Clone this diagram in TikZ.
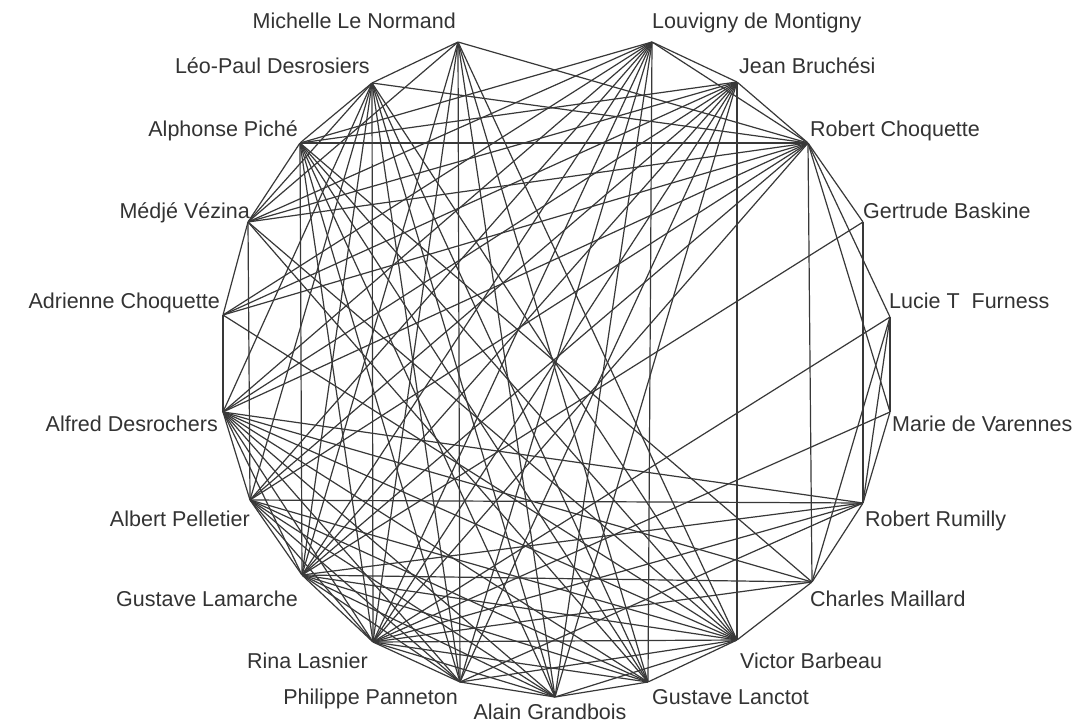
\documentclass[tikz,border=0pt]{standalone}
\usepackage{fontspec}
\setmainfont{Liberation Sans}
\begin{document}
\begin{tikzpicture}[x=1pt,y=-1pt,
  vtx/.style={circle,inner sep=0pt,minimum size=0pt},
  lab/.style={font=\fontsize{21.5}{24}\selectfont,text=black!80,inner sep=0pt},
  edge/.style={draw=black!78,line width=1.2pt}]
\useasboundingbox (0,0) rectangle (1092,723);
\fill[white] (0,0) rectangle (1092,723);
% vertices
\node[vtx] (a) at (458,42) {};
\node[vtx] (b) at (652,42) {};
\node[vtx] (c) at (372,83) {};
\node[vtx] (d) at (737,82) {};
\node[vtx] (e) at (300,143) {};
\node[vtx] (f) at (808,143) {};
\node[vtx] (g) at (248,222) {};
\node[vtx] (h) at (863,222) {};
\node[vtx] (i) at (223,315) {};
\node[vtx] (j) at (890,317) {};
\node[vtx] (k) at (223,412) {};
\node[vtx] (l) at (890,412) {};
\node[vtx] (m) at (250,500) {};
\node[vtx] (n) at (863,503) {};
\node[vtx] (o) at (302,575) {};
\node[vtx] (p) at (812,582) {};
\node[vtx] (q) at (373,642) {};
\node[vtx] (r) at (737,640) {};
\node[vtx] (s) at (460,682) {};
\node[vtx] (t) at (648,682) {};
\node[vtx] (u) at (555,697) {};
% edges
\foreach \x/\y in {a/c,a/f,a/g,a/o,a/q,a/s,a/u,a/t,a/r,
  b/d,b/f,b/e,b/g,b/i,b/k,b/m,b/o,b/q,b/s,b/t,b/u,
  c/f,c/g,c/k,c/m,c/o,c/q,c/s,c/u,c/t,c/r,c/e,
  d/f,d/e,d/g,d/i,d/k,d/m,d/o,d/q,d/s,d/u,d/r,
  e/f,e/g,e/o,e/q,e/s,e/u,e/t,e/r,e/p,
  f/g,f/i,f/k,f/h,f/l,f/j,f/p,f/m,f/o,f/q,
  g/i,g/m,g/r,g/t,
  h/n,h/o,
  i/k,i/r,
  j/l,j/q,j/n,j/p,
  k/m,k/o,k/q,k/s,k/u,k/t,k/r,k/n,k/p,
  l/q,l/n,
  m/o,m/q,m/s,m/u,m/t,m/r,m/n,
  n/p,n/o,n/q,n/s,
  o/q,o/s,o/u,o/t,o/r,o/p,
  p/r,p/q,
  q/s,q/r,q/u,q/t,
  r/t,r/s,r/u,
  s/u,t/u}
  \draw[edge] (\x) -- (\y);
% labels
\node[lab,anchor=base east] (la) at (456,28) {Michelle Le Normand};
\node[lab,anchor=base west] (lb) at (652,28) {Louvigny de Montigny};
\node[lab,anchor=base east] (lc) at (370,73) {Léo-Paul Desrosiers};
\node[lab,anchor=base west] (ld) at (739,73) {Jean Bruchési};
\node[lab,anchor=base east] (le) at (298,136) {Alphonse Piché};
\node[lab,anchor=base west] (lf) at (810,136) {Robert Choquette};
\node[lab,anchor=base east] (lg) at (250,218) {Médjé Vézina};
\node[lab,anchor=base west] (lh) at (863,218) {Gertrude Baskine};
\node[lab,anchor=base east] (li) at (220,308) {Adrienne Choquette};
\node[lab,anchor=base west] (lj) at (889,308) {Lucie T\ \ Furness};
\node[lab,anchor=base east] (lk) at (218,431) {Alfred Desrochers};
\node[lab,anchor=base west] (ll) at (892,431) {Marie de Varennes};
\node[lab,anchor=base east] (lm) at (250,526) {Albert Pelletier};
\node[lab,anchor=base west] (ln) at (865,526) {Robert Rumilly};
\node[lab,anchor=base east] (lo) at (298,606) {Gustave Lamarche};
\node[lab,anchor=base west] (lp) at (810,606) {Charles Maillard};
\node[lab,anchor=base east] (lq) at (368,668) {Rina Lasnier};
\node[lab,anchor=base west] (lr) at (740,668) {Victor Barbeau};
\node[lab,anchor=base east] (ls) at (458,704) {Philippe Panneton};
\node[lab,anchor=base west] (lt) at (652,704) {Gustave Lanctot};
\node[lab,anchor=base] (lu) at (550,719) {Alain Grandbois};
\end{tikzpicture}
\end{document}
